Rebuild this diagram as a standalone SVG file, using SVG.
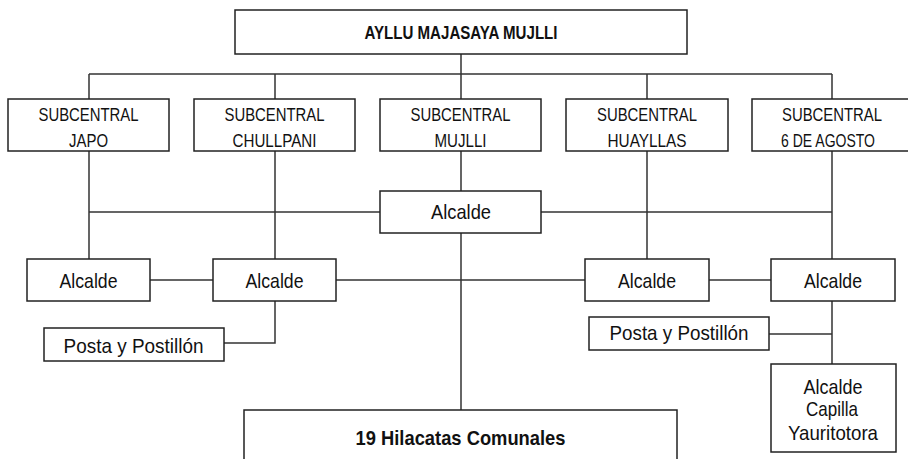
<svg xmlns="http://www.w3.org/2000/svg" width="908" height="459" viewBox="0 0 908 459">
<style>
.box{fill:#fff;stroke:#222;stroke-width:1.5}
.ln{fill:none;stroke:#333;stroke-width:1.5}
text{font-family:"Liberation Sans",Arial,sans-serif;fill:#111;text-anchor:middle}
.b{font-weight:bold}
.s{font-size:19px}
.a{font-size:21px}
</style>
<rect width="908" height="459" fill="#fff"/>
<g id="connectors">
<path class="ln" d="M461 54V99M89 74H832M89 74V99M275 74V99M647 74V99M832 74V99"/>
<path class="ln" d="M89 151V259M275 151V259M647 151V259M832 151V259M461 151V191"/>
<path class="ln" d="M89 212H380M541 212H832"/>
<path class="ln" d="M150 280H213M336 280H585M709 280H771"/>
<path class="ln" d="M461 233V410"/>
<path class="ln" d="M275 301V343H224"/>
<path class="ln" d="M832 301V364M769 334H832"/>
</g>
<g id="n-ayllu"><rect class="box" x="235" y="10" width="452" height="44"/><text class="b" x="461" y="39" font-size="18" textLength="193" lengthAdjust="spacingAndGlyphs">AYLLU MAJASAYA MUJLLI</text></g>
<g id="n-japo"><rect class="box" x="8" y="99" width="161" height="52"/><text class="s" x="88.5" y="121" textLength="100" lengthAdjust="spacingAndGlyphs">SUBCENTRAL</text><text class="s" x="88.5" y="147" textLength="39" lengthAdjust="spacingAndGlyphs">JAPO</text></g>
<g id="n-chullpani"><rect class="box" x="194" y="99" width="161" height="52"/><text class="s" x="274.5" y="121" textLength="100" lengthAdjust="spacingAndGlyphs">SUBCENTRAL</text><text class="s" x="274.5" y="147" textLength="84" lengthAdjust="spacingAndGlyphs">CHULLPANI</text></g>
<g id="n-mujlli"><rect class="box" x="380" y="99" width="161" height="52"/><text class="s" x="460.5" y="121" textLength="100" lengthAdjust="spacingAndGlyphs">SUBCENTRAL</text><text class="s" x="460.5" y="147" textLength="52" lengthAdjust="spacingAndGlyphs">MUJLLI</text></g>
<g id="n-huayllas"><rect class="box" x="566" y="99" width="162" height="52"/><text class="s" x="647" y="121" textLength="100" lengthAdjust="spacingAndGlyphs">SUBCENTRAL</text><text class="s" x="647" y="147" textLength="79" lengthAdjust="spacingAndGlyphs">HUAYLLAS</text></g>
<g id="n-agosto"><rect class="box" x="752" y="99" width="161" height="52"/><text class="s" x="832" y="121" textLength="100" lengthAdjust="spacingAndGlyphs">SUBCENTRAL</text><text class="s" x="828" y="147" textLength="94" lengthAdjust="spacingAndGlyphs">6 DE AGOSTO</text></g>
<g id="n-alc-center"><rect class="box" x="380" y="191" width="161" height="42"/><text class="a" x="461" y="219" textLength="60" lengthAdjust="spacingAndGlyphs">Alcalde</text></g>
<g id="n-alc-1"><rect class="box" x="27" y="259" width="123" height="42"/><text class="a" x="88.5" y="288" textLength="58" lengthAdjust="spacingAndGlyphs">Alcalde</text></g>
<g id="n-alc-2"><rect class="box" x="213" y="259" width="123" height="42"/><text class="a" x="274.5" y="288" textLength="58" lengthAdjust="spacingAndGlyphs">Alcalde</text></g>
<g id="n-alc-3"><rect class="box" x="585" y="259" width="124" height="42"/><text class="a" x="647" y="288" textLength="58" lengthAdjust="spacingAndGlyphs">Alcalde</text></g>
<g id="n-alc-4"><rect class="box" x="771" y="259" width="124" height="42"/><text class="a" x="833" y="288" textLength="58" lengthAdjust="spacingAndGlyphs">Alcalde</text></g>
<g id="n-posta-l"><rect class="box" x="44" y="328" width="180" height="33"/><text class="a" x="133.5" y="353" textLength="140" lengthAdjust="spacingAndGlyphs">Posta y Postillón</text></g>
<g id="n-posta-r"><rect class="box" x="589" y="317" width="180" height="33"/><text class="a" x="679" y="340" textLength="139" lengthAdjust="spacingAndGlyphs">Posta y Postillón</text></g>
<g id="n-capilla"><rect class="box" x="771" y="364" width="125" height="88"/><text class="a" x="833" y="394" textLength="59" lengthAdjust="spacingAndGlyphs">Alcalde</text><text class="a" x="832" y="416" textLength="52" lengthAdjust="spacingAndGlyphs">Capilla</text><text class="a" x="833" y="440" textLength="90" lengthAdjust="spacingAndGlyphs">Yauritotora</text></g>
<g id="n-hilacatas"><rect class="box" x="244" y="410" width="433" height="60"/><text class="b" x="460.5" y="445" font-size="21" textLength="210" lengthAdjust="spacingAndGlyphs">19 Hilacatas Comunales</text></g>
</svg>
